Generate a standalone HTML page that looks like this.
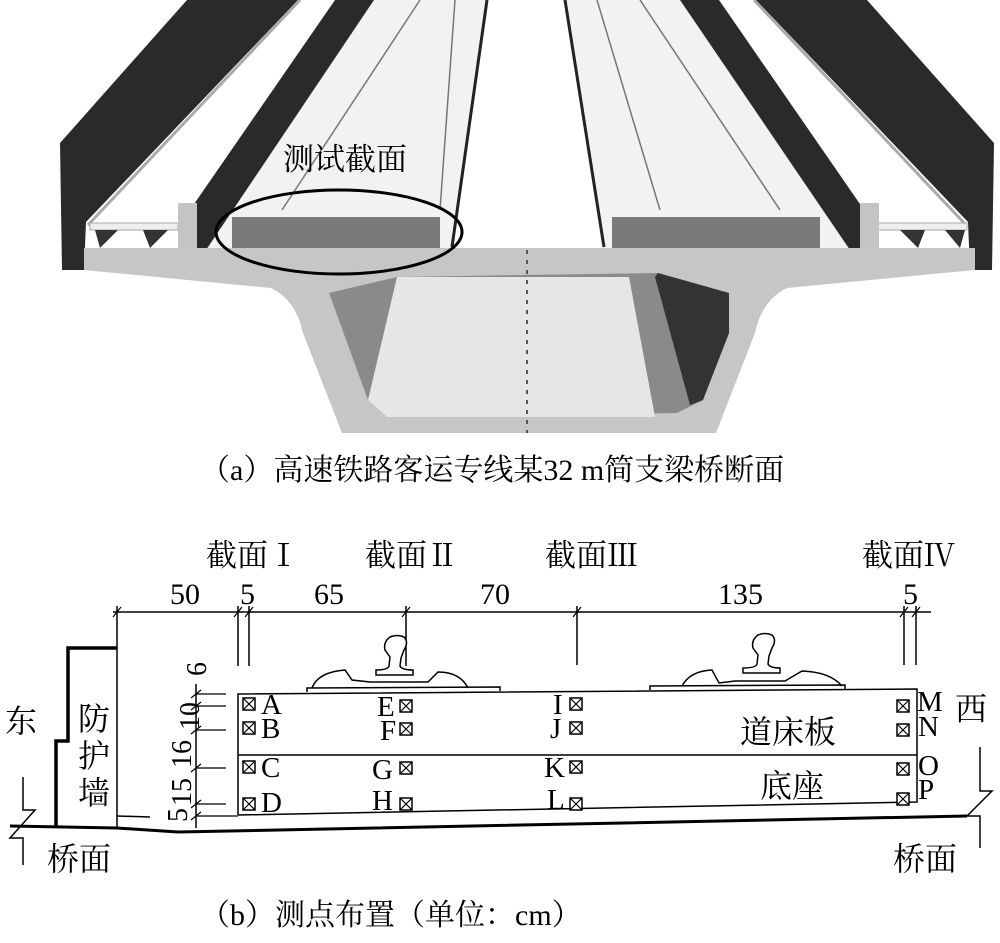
<!DOCTYPE html>
<html><head><meta charset="utf-8"><style>
html,body{margin:0;padding:0;background:#fff;}
svg{display:block;}
text{font-family:"Liberation Serif","Noto Serif CJK SC",serif;fill:#000;}
</style></head><body>
<svg width="1000" height="943" viewBox="0 0 1000 943" xmlns="http://www.w3.org/2000/svg">
<defs><g id="sq"><rect x="0" y="0" width="12" height="12" fill="#fff" stroke="#000" stroke-width="1.5"/><path d="M0,0 L12,12 M12,0 L0,12" stroke="#000" stroke-width="1.2"/></g></defs>
<!-- ===== Top picture ===== -->
<polygon points="374,0 487,0 452,248 206,248" fill="#f2f2f2"/>
<polygon points="565,0 680,0 850,248 602,248" fill="#f2f2f2"/>
<!-- left outer dark -->
<polygon points="187,0 298,0 86,222 84,270 62,270 60,143" fill="#2a2a2a"/>
<line x1="300" y1="0" x2="88" y2="225" stroke="#aaa" stroke-width="3"/>
<!-- left inner dark -->
<polygon points="335,0 374,0 206,250 192,250 192,207" fill="#2a2a2a"/>
<!-- right inner dark -->
<polygon points="680,0 719,0 862,207 862,250 850,250" fill="#2a2a2a"/>
<!-- right outer dark -->
<line x1="754" y1="0" x2="966" y2="225" stroke="#aaa" stroke-width="3"/>
<polygon points="756,0 867,0 994,143 992,270 970,270 968,222" fill="#2a2a2a"/>
<line x1="487" y1="0" x2="452" y2="247" stroke="#222" stroke-width="3"/>
<line x1="565" y1="0" x2="604" y2="247" stroke="#222" stroke-width="3"/>
<g stroke="#777" stroke-width="1.5">
<line x1="420" y1="0" x2="282" y2="210"/><line x1="455" y1="0" x2="440" y2="210"/>
<line x1="597" y1="0" x2="660" y2="210"/><line x1="640" y1="0" x2="780" y2="210"/>
</g>
<rect x="90" y="223" width="88" height="7" fill="#eee" stroke="#aaa"/>
<rect x="877" y="223" width="90" height="7" fill="#eee" stroke="#aaa"/>
<polygon points="95,230 118,230 100,248" fill="#333"/>
<polygon points="143,230 168,230 150,248" fill="#333"/>
<polygon points="900,230 925,230 918,248" fill="#333"/>
<polygon points="945,230 965,230 960,248" fill="#333"/>
<rect x="178" y="203" width="19" height="47" fill="#c4c4c4"/>
<rect x="860" y="203" width="19" height="47" fill="#c4c4c4"/>
<rect x="232" y="217" width="208" height="31" fill="#7a7a7a"/>
<rect x="612" y="217" width="208" height="31" fill="#7a7a7a"/>
<path d="M84,248 L975,248 L975,270 L787,288 Q762,300 755,333 L716,433 L342,433 L303,333 Q296,300 271,288 L84,270 Z" fill="#c6c6c6"/>
<polygon points="329,293 397,277 658,273 729,293 729,333 703,400 677,413 387,417 368,400" fill="#8a8a8a"/>
<polygon points="658,273 729,293 729,333 703,400 690,405 655,277" fill="#333"/>
<polygon points="397,277 629,277 655,417 387,417 368,400" fill="#e6e6e6"/>
<line x1="527" y1="250" x2="527" y2="433" stroke="#555" stroke-width="2" stroke-dasharray="4,6"/>
<ellipse cx="339" cy="232" rx="123" ry="42" fill="none" stroke="#000" stroke-width="3"/>
<text x="283" y="170" font-size="31">测试截面</text>
<text x="200" y="480" font-size="30">（a）高速铁路客运专线某32 m简支梁桥断面</text>

<!-- ===== Bottom diagram ===== -->
<text x="206" y="566" font-size="31">截面Ⅰ</text>
<text x="365" y="566" font-size="31">截面Ⅱ</text>
<text x="545" y="566" font-size="31">截面Ⅲ</text>
<text x="862" y="566" font-size="31">截面Ⅳ</text>
<g font-size="30">
<text x="170" y="604">50</text><text x="240" y="604">5</text><text x="314" y="604">65</text>
<text x="480" y="604">70</text><text x="718" y="604">135</text><text x="903" y="604">5</text>
</g>
<g stroke="#000" stroke-width="1.5" fill="none">
<line x1="113" y1="612" x2="931" y2="612"/>
<line x1="117" y1="606" x2="117" y2="828"/>
<line x1="238" y1="606" x2="238" y2="666"/>
<line x1="249" y1="606" x2="249" y2="666"/>
<line x1="406" y1="606" x2="406" y2="666"/>
<line x1="577" y1="606" x2="577" y2="665"/>
<line x1="904" y1="606" x2="904" y2="665"/>
<line x1="916" y1="606" x2="916" y2="665"/>
<g stroke-width="1.2">
<line x1="113" y1="617" x2="121" y2="607"/><line x1="234" y1="617" x2="242" y2="607"/>
<line x1="245" y1="617" x2="253" y2="607"/><line x1="402" y1="617" x2="410" y2="607"/>
<line x1="573" y1="617" x2="581" y2="607"/><line x1="900" y1="617" x2="908" y2="607"/>
<line x1="912" y1="617" x2="920" y2="607"/>
</g>
<line x1="196" y1="684" x2="196" y2="828"/>
<g stroke-width="1.2">
<line x1="196" y1="694" x2="226" y2="694"/><line x1="196" y1="706" x2="226" y2="706"/>
<line x1="196" y1="730" x2="226" y2="730"/><line x1="196" y1="768" x2="226" y2="768"/>
<line x1="196" y1="804" x2="226" y2="804"/><line x1="196" y1="816" x2="238" y2="816"/>
<line x1="191" y1="698" x2="201" y2="690"/><line x1="191" y1="710" x2="201" y2="702"/>
<line x1="191" y1="734" x2="201" y2="726"/><line x1="191" y1="772" x2="201" y2="764"/>
<line x1="191" y1="808" x2="201" y2="800"/><line x1="191" y1="820" x2="201" y2="812"/>
</g>
<path d="M56,828 L56,741 L68,741 L68,648 L117,648" stroke-width="3.5"/>
<line x1="117" y1="816" x2="150" y2="817"/>
<path d="M23,777 L23,810 L35,810 L10,838 L23,838 L23,865"/>
<path d="M980,747 L980,791 L992,791 L967,816 L980,816 L980,848"/>
<path d="M10,826 L117,828 L178,832 L967,816" stroke-width="3"/>
<path d="M238,815 L238,694 L917,689 L917,802 L238,815"/>
<line x1="238" y1="755" x2="917" y2="755"/>
<path d="M307,692 L307,688 L500,687 L500,691" />
<path d="M312,688 Q318,672 345,670 L352,680 L370,682 L428,682 L438,672 Q460,672 468,688"/>
<path d="M650,690 L650,686 L845,685 L845,689"/>
<path d="M682,686 Q690,671 712,670 L719,683 L735,681 L785,681 L802,671 Q830,672 842,686"/>
</g>
<path d="M390,657 L385,650 Q383,642 390,637 Q397,634 404,637 Q409,642 404,650 L401,658 L400,666 Q402,670 413,670 L413,675 L376,675 L376,670 Q388,670 389,666 Z" fill="#fff" stroke="#000" stroke-width="1.5"/>
<path d="M758,655 L753,648 Q751,640 758,635 Q765,632 772,635 Q777,640 772,648 L769,656 L768,664 Q770,668 780,668 L780,673 L743,673 L743,668 Q756,668 757,664 Z" fill="#fff" stroke="#000" stroke-width="1.5"/>
<use href="#sq" x="243" y="698"/><use href="#sq" x="243" y="722"/><use href="#sq" x="243" y="761"/><use href="#sq" x="243" y="798"/>
<use href="#sq" x="400" y="700"/><use href="#sq" x="400" y="723"/><use href="#sq" x="400" y="762"/><use href="#sq" x="400" y="798"/>
<use href="#sq" x="570" y="698"/><use href="#sq" x="570" y="722"/><use href="#sq" x="570" y="761"/><use href="#sq" x="570" y="798"/>
<use href="#sq" x="897" y="700"/><use href="#sq" x="897" y="724"/><use href="#sq" x="897" y="763"/><use href="#sq" x="897" y="793"/>
<g font-size="29">
<text x="261" y="714">A</text><text x="261" y="738">B</text><text x="261" y="777">C</text><text x="261" y="812">D</text>
<text x="377" y="716">E</text><text x="380" y="740">F</text><text x="372" y="779">G</text><text x="372" y="810">H</text>
<text x="553" y="714">I</text><text x="550" y="738">J</text><text x="544" y="777">K</text><text x="547" y="809">L</text>
<text x="917" y="711">M</text><text x="918" y="736">N</text><text x="918" y="775">O</text><text x="918" y="799">P</text>
</g>
<g font-size="28">
<text transform="translate(206,676) rotate(-90)">6</text>
<text transform="translate(199,730) rotate(-90)">10</text>
<text transform="translate(191,768) rotate(-90)">16</text>
<text transform="translate(191,806) rotate(-90)">15</text>
<text transform="translate(187,822) rotate(-90)">5</text>
</g>
<g font-size="32">
<text x="5" y="732">东</text>
<text x="78" y="730">防</text><text x="78" y="767">护</text><text x="78" y="804">墙</text>
<text x="47" y="870">桥面</text>
<text x="955" y="720">西</text>
<text x="893" y="870">桥面</text>
<text x="740" y="743">道床板</text>
<text x="760" y="797">底座</text>
</g>
<text x="200" y="925" font-size="30">（b）测点布置（单位：cm）</text>
</svg>
</body></html>
